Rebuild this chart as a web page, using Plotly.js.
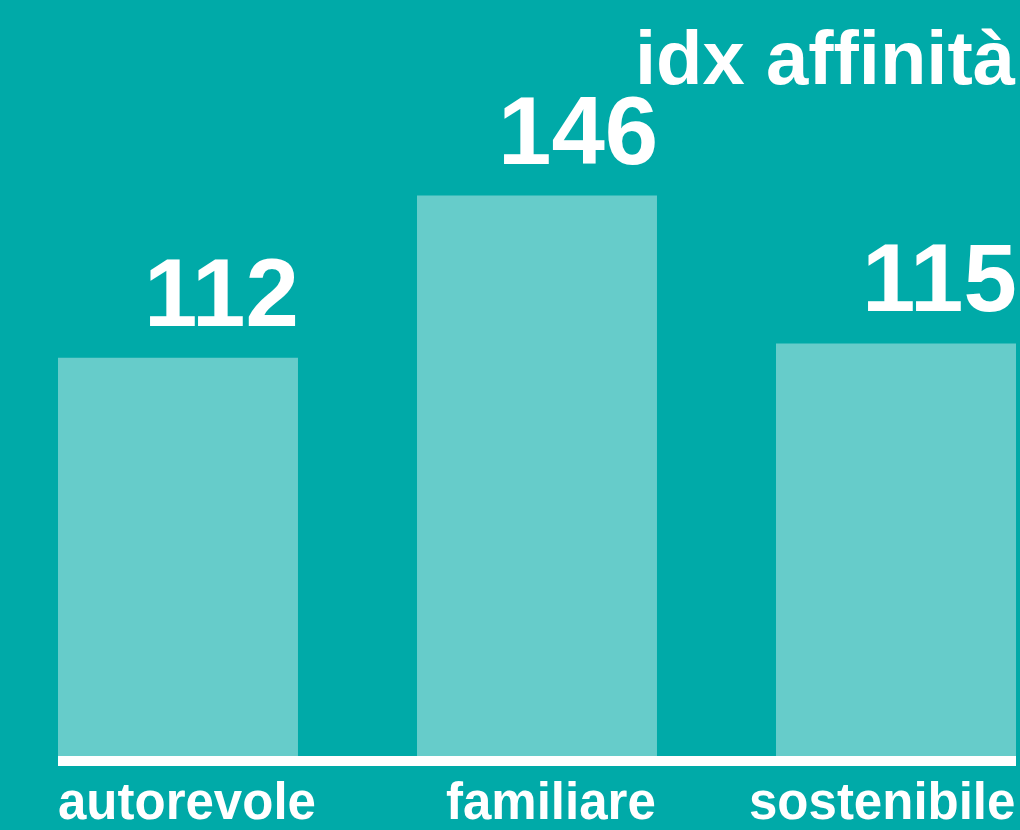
<!DOCTYPE html>
<html>
<head>
<meta charset="utf-8">
<script src="https://cdn.plot.ly/plotly-3.0.1.min.js"></script>
<style>html,body{margin:0;padding:0;background:#00AAA8;}#chart{width:1020px;height:830px;}</style>
</head>
<body>
<div id="chart"></div>
<script>
const categories = ['autorevole', 'familiare', 'sostenibile'];
const values = [112, 146, 115];
const valueLabels = ['112', '146', '115'];
const chartTitle = 'idx affinità';

const bg = '#00AAA8';
const barColor = '#66CCCA';
const fontFamily = '"Liberation Sans", Arial, Helvetica, sans-serif';
const barWidth = 0.6685;
const xRange = [-0.4958, 2.3454];
const yRange = [28.5, 187];
const catAnchors = ['left', 'right', 'right'];

const annotations = [];
values.forEach((v, i) => {
  annotations.push({
    x: i + barWidth / 2, xref: 'x', xanchor: 'right',
    y: v, yref: 'y', yanchor: 'bottom',
    text: '<b>' + valueLabels[i] + '</b>', showarrow: false,
    font: {family: fontFamily, size: 96, color: '#ffffff'},
    xshift: 3, yshift: 10
  });
  const ax = catAnchors[i] === 'left' ? i - barWidth / 2 : i + barWidth / 2;
  annotations.push({
    x: ax, xref: 'x', xanchor: catAnchors[i],
    y: 0, yref: 'paper', yanchor: 'top',
    text: '<b>' + categories[i] + '</b>', showarrow: false,
    font: {family: fontFamily, size: 51, color: '#ffffff'},
    xshift: catAnchors[i] === 'left' ? -2 : 1, yshift: -15
  });
});
annotations.push({
  x: 1, xref: 'paper', xanchor: 'right',
  y: 1, yref: 'paper', yanchor: 'top',
  text: '<b>' + chartTitle + '</b>', showarrow: false,
  font: {family: fontFamily, size: 76, color: '#ffffff'},
  xshift: -2, yshift: -13
});

const span = xRange[1] - xRange[0];
const shapes = [{
  type: 'line', xref: 'paper', yref: 'paper',
  x0: (0 - barWidth / 2 - xRange[0]) / span,
  x1: (categories.length - 1 + barWidth / 2 - xRange[0]) / span,
  y0: -5 / 756, y1: -5 / 756,
  line: {color: '#ffffff', width: 10}
}];

Plotly.newPlot('chart', [{
  type: 'bar', x: categories.map((c, i) => i), y: values,
  width: barWidth, marker: {color: barColor, line: {width: 0}},
  hoverinfo: 'skip', cliponaxis: true
}], {
  width: 1020, height: 830,
  margin: {l: 0, r: 0, t: 0, b: 74, pad: 0},
  paper_bgcolor: bg, plot_bgcolor: bg,
  showlegend: false,
  xaxis: {range: xRange, showticklabels: false, showgrid: false, zeroline: false, showline: false, ticks: ''},
  yaxis: {range: yRange, showticklabels: false, showgrid: false, zeroline: false, showline: false, ticks: ''},
  annotations: annotations,
  shapes: shapes
}, {displayModeBar: false, staticPlot: true});
</script>
</body>
</html>
